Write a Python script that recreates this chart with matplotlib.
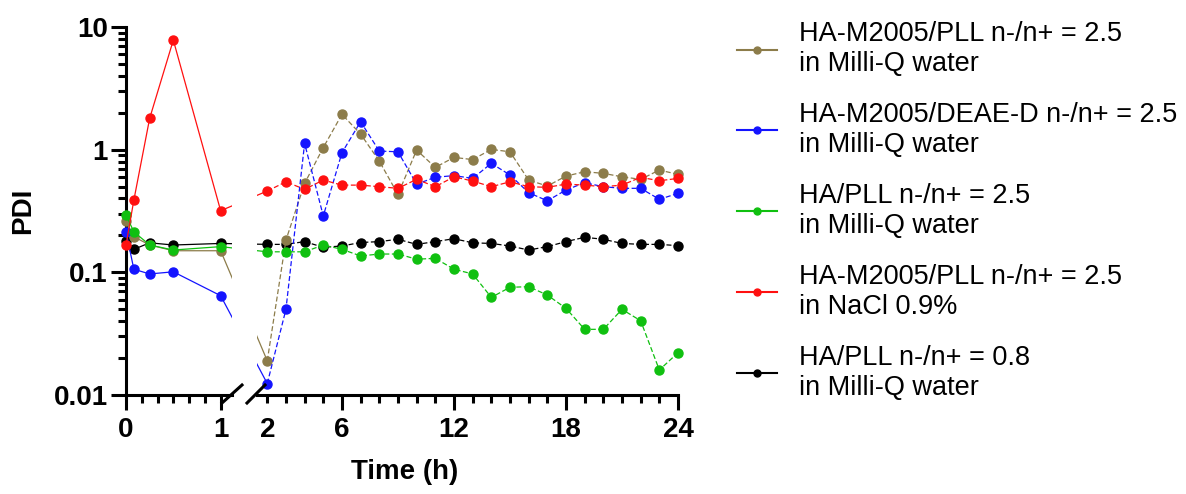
import numpy as np
import matplotlib
matplotlib.use("Agg")
import matplotlib.pyplot as plt
from matplotlib.lines import Line2D
from matplotlib.ticker import LogLocator, NullFormatter, FixedLocator

plt.rcParams['font.family'] = ['Liberation Sans', 'DejaVu Sans']

# --------------------------
# data (PDI vs time)
t_early = [0, 0.083, 0.25, 0.5, 1]
t_late = list(range(2, 25))

labels = ["HA-M2005/PLL n-/n+ = 2.5\nin Milli-Q water",
          "HA-M2005/DEAE-D n-/n+ = 2.5\nin Milli-Q water",
          "HA/PLL n-/n+ = 2.5\nin Milli-Q water",
          "HA-M2005/PLL n-/n+ = 2.5\nin NaCl 0.9%",
          "HA/PLL n-/n+ = 0.8\nin Milli-Q water"]
colors = ['#8c7c4a', '#1414ff', '#10c010', '#ff1010', '#000000']

brown_early = [0.263, 0.195, 0.167, 0.150, 0.150]
brown_late = [0.019, 0.183, 0.531, 1.04, 1.94, 1.34, 0.807, 0.432, 0.993, 0.717, 0.865, 0.83,
              1.005, 0.961, 0.565, 0.505, 0.609, 0.661, 0.641, 0.601, 0.573, 0.682, 0.629]

blue_early = [0.214, 0.106, 0.097, 0.101, 0.0645]
blue_late = [0.0124, 0.0499, 1.125, 0.288, 0.944, 1.69, 0.974, 0.961, 0.524, 0.595, 0.615, 0.583,
             0.773, 0.622, 0.446, 0.383, 0.469, 0.538, 0.499, 0.484, 0.484, 0.394, 0.44]

green_early = [0.293, 0.214, 0.167, 0.152, 0.162]
green_late = [0.147, 0.147, 0.147, 0.167, 0.154, 0.136, 0.141, 0.141, 0.128, 0.13, 0.106, 0.097,
              0.0625, 0.0755, 0.0764, 0.0653, 0.0509, 0.0343, 0.0343, 0.0499, 0.0403, 0.016, 0.0221]

red_early = [0.167, 0.388, 1.80, 7.82, 0.318]
red_late = [0.46, 0.547, 0.475, 0.565, 0.514, 0.514, 0.499, 0.484, 0.573, 0.499, 0.601, 0.555,
            0.499, 0.547, 0.499, 0.493, 0.524, 0.514, 0.499, 0.514, 0.595, 0.558, 0.583]

black_early = [0.18, 0.154, 0.174, 0.167, 0.172]
black_late = [0.169, 0.169, 0.178, 0.16, 0.164, 0.175, 0.178, 0.186, 0.169, 0.178, 0.188, 0.174,
              0.172, 0.164, 0.152, 0.162, 0.178, 0.193, 0.186, 0.172, 0.169, 0.169, 0.165]

early = [brown_early, blue_early, green_early, red_early, black_early]
late = [brown_late, blue_late, green_late, red_late, black_late]
zorders = [3, 4, 5, 6, 2]

# --------------------------
# figure with broken x axis
W, H = 1186, 494
fig = plt.figure(figsize=(W / 100, H / 100), dpi=100)


def px_rect(x0, x1, y0, y1):
    return [x0 / W, 1 - y1 / H, (x1 - x0) / W, (y1 - y0) / H]


ax_l = fig.add_axes(px_rect(126, 232, 27, 395))
ax_r = fig.add_axes(px_rect(257, 678, 27, 395))

for ax in (ax_l, ax_r):
    ax.set_yscale('log')
    ax.set_ylim(0.01, 10)
    for s in ['top', 'right']:
        ax.spines[s].set_visible(False)
    ax.spines['bottom'].set_linewidth(2.2)
    ax.spines['left'].set_linewidth(2.2)
    ax.patch.set_alpha(0)

ax_l.set_xlim(0, 1.12)
ax_r.set_xlim(1.45, 24)
ax_r.spines['left'].set_visible(False)
ax_r.tick_params(axis='y', which='both', left=False, labelleft=False)

# y ticks
ax_l.yaxis.set_major_locator(FixedLocator([0.01, 0.1, 1, 10]))
ax_l.set_yticklabels(['0.01', '0.1', '1', '10'])
ax_l.yaxis.set_minor_locator(LogLocator(base=10, subs=np.arange(2, 10)))
ax_l.yaxis.set_minor_formatter(NullFormatter())
ax_r.yaxis.set_minor_formatter(NullFormatter())

# x ticks
ax_l.set_xticks([0, 1])
ax_l.set_xticklabels(['0', '1'])
ax_l.set_xticks(np.arange(1, 6) / 6, minor=True)
ax_r.set_xticks([2, 6, 12, 18, 24])
ax_r.set_xticklabels(['2', '6', '12', '18', '24'])
ax_r.set_xticks(range(3, 24), minor=True)

for ax in (ax_l, ax_r):
    ax.tick_params(which='major', length=11, width=2.2, labelsize=20, pad=5)
    ax.tick_params(which='minor', length=6, width=2.2)
    ax.tick_params(axis='y', which='major', pad=2)
    for lab in ax.get_xticklabels() + ax.get_yticklabels():
        lab.set_fontweight('bold')

# the "2" tick is short
t2 = ax_r.xaxis.get_major_ticks()[0]
t2.tick1line.set_markersize(6)

# --------------------------
# data lines
for e, l, c, z in zip(early, late, colors, zorders):
    ax_l.plot(t_early, e, color=c, lw=0.9, marker='o', ms=6.5, clip_on=False, zorder=z)
    ax_r.plot(t_late, l, color=c, lw=0.9, ls=(0, (4, 2)), marker='o', ms=6.5,
              clip_on=False, zorder=z)
    # segment across the break, straight in display space
    p1 = ax_l.transData.transform((t_early[-1], e[-1]))
    p2 = ax_r.transData.transform((t_late[0], l[0]))
    x2_l = ax_l.transData.inverted().transform(p2)[0]
    x1_r = ax_r.transData.inverted().transform(p1)[0]
    ax_l.plot([t_early[-1], x2_l], [e[-1], l[0]], color=c, lw=0.9, zorder=z - 0.5)
    ax_r.plot([x1_r, t_late[0]], [e[-1], l[0]], color=c, lw=0.9, zorder=z - 0.5)

# break marks
for (x0, y0, x1, y1) in [(222, 403, 242, 385), (247, 403, 265, 385)]:
    fig.add_artist(Line2D([x0 / W, x1 / W], [1 - y0 / H, 1 - y1 / H],
                          color='black', lw=2.2, transform=fig.transFigure))

# axis labels
fig.text(23 / W, 1 - 211 / H, 'PDI', rotation=90, fontsize=20, fontweight='bold',
         ha='center', va='center')
fig.text(405 / W, 1 - 472 / H, 'Time (h)', fontsize=20, fontweight='bold',
         ha='center', va='center')

# legend
handles = [Line2D([], [], color=c, lw=1.5, marker='o', ms=5) for c in colors]
fig.legend(handles, labels, loc='upper left', bbox_to_anchor=(737 / W, 1 - 21 / H),
           frameon=False, fontsize=19.5, handlelength=1.48, handletextpad=0.8,
           labelspacing=0.92, borderpad=0, borderaxespad=0)

fig.savefig('out.png', dpi=100)
